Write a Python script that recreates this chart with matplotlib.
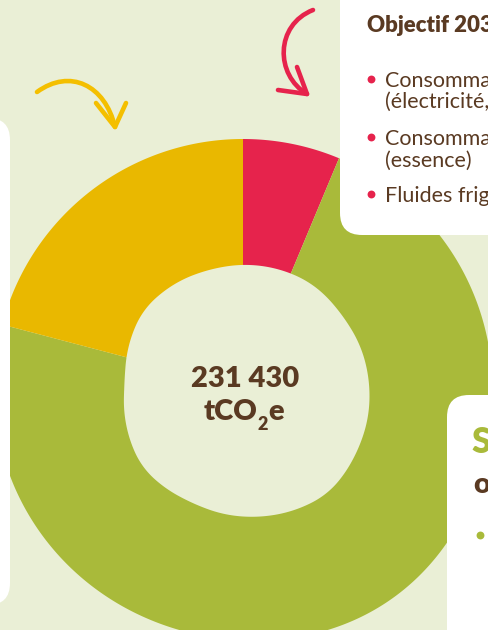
import numpy as np
import matplotlib
matplotlib.use("Agg")
import matplotlib.pyplot as plt
from matplotlib.patches import PathPatch, FancyBboxPatch
from matplotlib.path import Path

plt.rcParams['font.family'] = ['Lato', 'DejaVu Sans']

# Data (share of total emissions, %)
labels = ["Fluides frigorigènes", "Autres émissions", "Consommations d'énergie"]
shares = [6.3, 72.8, 20.9]
colors = ["#E6234C", "#A9BA3A", "#E9B800"]
total_label = "231 430"
unit_parts = ["tCO", "2", "e"]

legend_title = "Objectif 2030"
legend_lines = ["Consommations d'énergie", "(électricité, gaz)",
                "Consommations de carburant", "(essence)", "Fluides frigorigènes"]
box2_title = "Scope 3"
box2_sub = "objectifs"

BG = "#EAEFD6"
BROWN = "#5A3A22"
W, H = 489, 630

fig = plt.figure(figsize=(W / 100, H / 100), dpi=100, facecolor=BG)
ax = fig.add_axes([0, 0, 1, 1])
ax.set_facecolor(BG)

# donut centre (image pixel coords, y down)
cx, cy = 243, 388

# pie drawn large, then clipped to a slightly irregular outer outline
wedges, _ = ax.pie(shares, colors=colors, startangle=-90, counterclock=True,
                   center=(cx, cy), radius=300, frame=True,
                   wedgeprops=dict(linewidth=0))

th = np.radians(np.linspace(-180, 180, 721))
r_out = 249 + 9 * np.exp(-((np.degrees(th) + 55) ** 2) / (2 * 25 ** 2))
outer_xy = np.column_stack([cx + r_out * np.cos(th), cy - r_out * np.sin(th)])
outer = PathPatch(Path(outer_xy, closed=True), facecolor='none', edgecolor='none',
                  transform=ax.transData)
ax.add_patch(outer)
for w in wedges:
    w.set_clip_on(True)
    w.set_clip_path(outer)

# hand-drawn looking hole
hx, hy = 247, 391
a_pts = np.array([-144, -116, -85, -52, -28, 4, 38, 60, 87, 107, 123, 142, 176])
r_pts = np.array([129, 124, 126, 130, 125, 122, 121, 125, 126, 126.5, 129, 131, 122])
deg = np.linspace(-180, 180, 721)
r_in = np.interp(deg, a_pts, r_pts, period=360)
k = np.ones(31) / 31
r_in = np.convolve(np.concatenate([r_in[-15:], r_in, r_in[:15]]), k, mode='valid')
t = np.radians(deg)
hole_xy = np.column_stack([hx + r_in * np.cos(t), hy - r_in * np.sin(t)])
ax.add_patch(PathPatch(Path(hole_xy, closed=True), facecolor=BG, edgecolor='none', zorder=3))

ax.text(245, 387, total_label, ha='center', va='baseline', fontsize=21,
        fontweight='heavy', color=BROWN, zorder=4)
ax.text(258, 420, unit_parts[0], ha='right', va='baseline', fontsize=21,
        fontweight='heavy', color=BROWN, zorder=4)
ax.text(258, 430, unit_parts[1], ha='left', va='baseline', fontsize=13,
        fontweight='heavy', color=BROWN, zorder=4)
ax.text(268.5, 420, unit_parts[2], ha='left', va='baseline', fontsize=21,
        fontweight='heavy', color=BROWN, zorder=4)

# white info boxes
for (x0, y0, bw, bh) in [(340, -40, 200, 275), (-40, 118, 50, 487), (447, 395, 100, 280)]:
    ax.add_patch(FancyBboxPatch((x0, y0), bw, bh, boxstyle="round,pad=0,rounding_size=22",
                                facecolor='white', edgecolor='none', zorder=5))

ax.text(367, 32, legend_title, fontsize=16, fontweight='heavy', color=BROWN,
        va='baseline', zorder=6)
base_y = [87, 108, 145, 167, 202]
for s, y in zip(legend_lines, base_y):
    ax.text(385, y, s, fontsize=15.5, color=BROWN, va='baseline', zorder=6)
ax.scatter([371, 371, 371], [79, 137, 194], s=32, color="#E6234C", zorder=6, linewidths=0)

ax.text(472, 453, box2_title, fontsize=25, fontweight='heavy', color="#A9BA3A",
        va='baseline', zorder=6)
ax.text(473, 493, box2_sub, fontsize=21, fontweight='heavy', color=BROWN,
        va='baseline', zorder=6)
ax.scatter([480], [535], s=32, color="#A9BA3A", zorder=6, linewidths=0)

# arrows
def arrow(p0, p1, p2, p3, b1, b2, col):
    arc = Path([p0, p1, p2, p3], [Path.MOVETO, Path.CURVE4, Path.CURVE4, Path.CURVE4])
    ax.add_patch(PathPatch(arc, facecolor='none', edgecolor=col, lw=3.3,
                           capstyle='round', zorder=6))
    head = Path([b1, p3, b2], [Path.MOVETO, Path.LINETO, Path.LINETO])
    ax.add_patch(PathPatch(head, facecolor='none', edgecolor=col, lw=3.3,
                           capstyle='round', joinstyle='round', zorder=6))

arrow((37, 92), (70, 68), (105, 85), (115, 127), (96, 103), (126, 103), "#F4BF00")
arrow((313, 10), (275, 25), (275, 75), (307, 94), (297, 67), (278, 90), "#E6234C")

ax.set_xlim(0, W)
ax.set_ylim(H, 0)
ax.set_aspect('equal')
ax.set_axis_off()

fig.savefig("out.png", dpi=100, facecolor=BG)
